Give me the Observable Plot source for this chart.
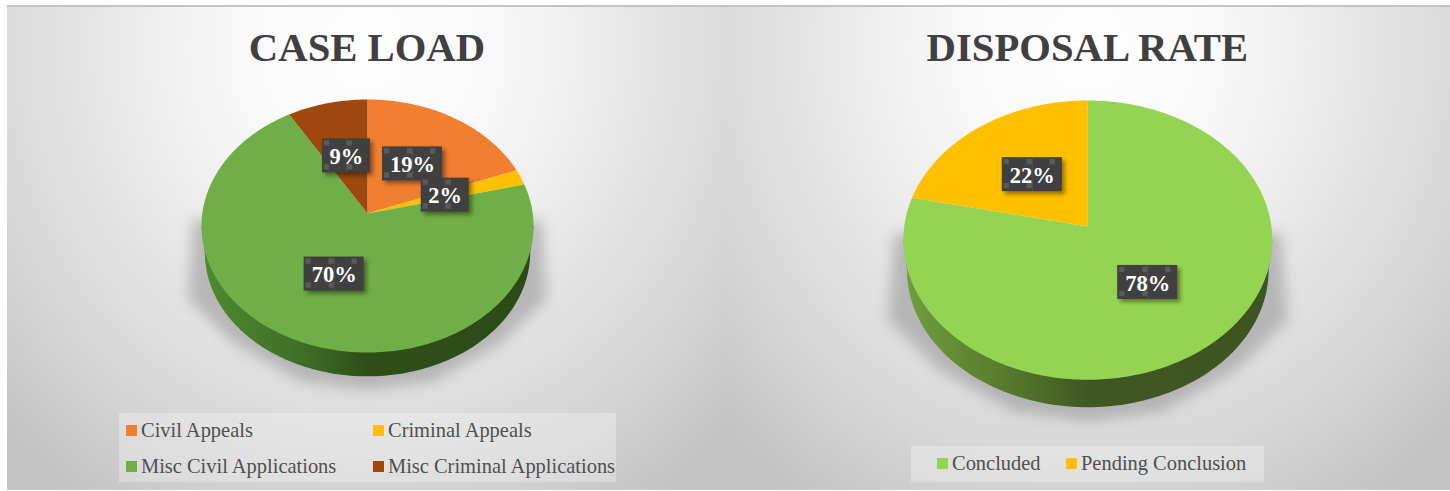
<!DOCTYPE html>
<html>
<head>
<meta charset="utf-8">
<script src="https://cdn.jsdelivr.net/npm/d3@7"></script>
<script src="https://cdn.jsdelivr.net/npm/@observablehq/plot@0.6"></script>
<style>
  html,body{margin:0;padding:0;background:#fff;}
  #page{position:relative;width:1450px;height:491px;overflow:hidden;font-family:"Liberation Serif",serif;}
  .panel{position:absolute;top:5px;height:485px;border-top:2px solid #c3c3c3;box-sizing:border-box;}
  .panel svg{position:absolute;left:0;top:0;background:transparent;overflow:visible;}
  .title{position:absolute;top:16px;margin:0;text-align:center;font:bold 40.7px "Liberation Serif",serif;color:#404040;white-space:nowrap;line-height:50px;}
  .legend{position:absolute;background:rgba(255,255,255,.28);}
  .item{position:absolute;font-size:20.45px;line-height:24px;color:#505050;white-space:nowrap;}
  .sw{position:absolute;width:11px;height:11px;}
</style>
</head>
<body>
<div id="page"></div>
<script>
// ---- data ----
const caseCategories = ["Civil Appeals", "Criminal Appeals", "Misc Civil Applications", "Misc Criminal Applications"];
const caseValues = [19.2, 2.0, 70.2, 8.6];
const caseColors = ["#f07f30", "#ffc000", "#70ae47", "#9e480e"];

const disposalCategories = ["Concluded", "Pending Conclusion"];
const disposalValues = [78.4, 21.6];
const disposalColors = ["#95d452", "#ffc000"];

const page = document.getElementById("page");
const TAU = Math.PI * 2;

function panel(cfg) {
  const {id, title, categories, values, colors, left, width, cx, cyApex, rx, ry, k, depth, narrow, sideStops, legend} = cfg;
  const div = document.createElement("div");
  div.className = "panel";
  div.style.left = left + "px";
  div.style.width = width + "px";
  div.style.background = "radial-gradient(ellipse 520px 560px at " + cfg.glow + "px 40px, #ffffff 0%, #f8f8f8 26%, #e7e7e7 52%, #d4d4d4 78%, #c2c2c2 100%)";
  page.appendChild(div);
  const height = 483;

  // homography of the unit disc: the tilted pie seen with a little perspective
  const proj = (u, v) => ({x: u / (1 - k * v), y: v / (1 - k * v)});
  const total = d3.sum(values);
  let acc = 0;
  const slices = values.map((val, i) => {
    const a0 = acc / total * TAU; acc += val;
    const a1 = acc / total * TAU;
    return {cat: categories[i], val, color: colors[i], a0, a1, mid: (a0 + a1) / 2};
  });

  const wedge = [];
  slices.forEach((s) => {
    wedge.push({...proj(0, 0), cat: s.cat, color: s.color});
    const n = Math.max(4, Math.ceil((s.a1 - s.a0) / 0.02));
    for (let j = 0; j <= n; j++) {
      const a = s.a0 + (s.a1 - s.a0) * j / n;
      wedge.push({...proj(Math.sin(a), -Math.cos(a)), cat: s.cat, color: s.color});
    }
  });

  // ellipse outline in projected data units
  const ox = 1 / Math.sqrt(1 - k * k);
  const oc = k / (1 - k * k);
  const oy = 1 / (1 - k * k);
  const ring = (sx, sy, c, a0, a1, n = 120) => d3.range(n + 1).map(j => {
    const a = a0 + (a1 - a0) * j / n;
    return {x: ox * sx * Math.cos(a), y: c + oy * sy * Math.sin(a)};
  });

  const side = [{x: -ox, y: oc}]
    .concat(ring(narrow, narrow, oc + depth + (1 - narrow) * oy, Math.PI, 0))
    .concat([{x: ox, y: oc}]);
  side.reverse();

  const shadow = [
    {x: -1.05 * ox, y: oc - 0.05},
    {x: -1.08 * ox, y: oc + 0.58},
    {x: -0.80 * ox, y: oc + 0.94},
    {x: -0.40 * ox, y: oc + 1.24},
    {x: 0, y: oc + 1.31},
    {x: 0.40 * ox, y: oc + 1.24},
    {x: 0.80 * ox, y: oc + 0.94},
    {x: 1.08 * ox, y: oc + 0.58},
    {x: 1.05 * ox, y: oc - 0.05}
  ];

  // labels sit half-way along each slice's middle radius
  const bx = rx, by = ry;
  const labels = slices.map(s => {
    const p = proj(0.5 * Math.sin(s.mid), -0.5 * Math.cos(s.mid));
    const text = Math.round(s.val) + "%";
    const hw = (text.length === 2 ? 24 : 30) / bx;
    const hh = 17 / by;
    return {...p, text, hw, hh};
  });

  const tiles = labels.flatMap(l => {
    const steps = l.text.length === 2 ? [-20, 3] : [-26, -3, 20];
    return steps.flatMap((dx, i) => [
      {x: l.x + dx / bx, y: l.y - 13 / by},
      ...(i < 2 ? [{x: l.x + dx / bx, y: l.y + 11 / by}] : [])
    ]);
  });
  const seams = labels.map(l => ({x: l.x, y1: l.y - l.hh, y2: l.y + l.hh}));

  const defs = () => {
    const ns = "http://www.w3.org/2000/svg";
    const d = document.createElementNS(ns, "defs");
    const g = document.createElementNS(ns, "linearGradient");
    g.setAttribute("id", "side-" + id);
    g.setAttribute("x1", "0"); g.setAttribute("x2", "1"); g.setAttribute("y1", "0"); g.setAttribute("y2", "0");
    sideStops.forEach(([o, c]) => {
      const st = document.createElementNS(ns, "stop");
      st.setAttribute("offset", o); st.setAttribute("stop-color", c);
      g.appendChild(st);
    });
    d.appendChild(g);
    return d;
  };

  const plot = Plot.plot({
    width, height,
    margin: 0,
    style: {background: "transparent"},
    x: {domain: [-1, 1], range: [cx - left - rx, cx - left + rx], axis: null},
    y: {domain: [-1, 1], range: [cyApex - 7 - ry, cyApex - 7 + ry], axis: null},
    marks: [
      defs,
      Plot.line(shadow, {x: "x", y: "y", fill: "#8c8c8c", stroke: "none", curve: "linear-closed", fillOpacity: 0.52, imageFilter: "blur(7px)"}),
      Plot.line(side, {x: "x", y: "y", fill: `url(#side-${id})`, stroke: "none", curve: "linear-closed"}),
      Plot.line(wedge, {x: "x", y: "y", z: "cat", fill: "color", stroke: "none", curve: "linear-closed"}),
      Plot.rect(labels, {
        x1: d => d.x - d.hw, x2: d => d.x + d.hw, y1: d => d.y - d.hh, y2: d => d.y + d.hh,
        fill: "#404040",
        imageFilter: "drop-shadow(3px 3px 2px rgba(0,0,0,.42))"
      }),
      Plot.dot(tiles, {x: "x", y: "y", symbol: "square", r: 3, fill: "#5a5a5a", stroke: "none"}),
      Plot.ruleX(seams, {x: "x", y1: "y1", y2: "y2", stroke: "#555555", strokeWidth: 0.8}),
      Plot.text(labels, {
        x: "x", y: "y", dy: 1, text: "text", fill: "#ffffff",
        fontFamily: "Liberation Serif", fontWeight: "bold", fontSize: 22.5
      })
    ]
  });
  div.appendChild(plot);

  const h = document.createElement("div");
  h.className = "title";
  h.textContent = title;
  h.style.width = width + "px";
  h.style.left = (cx - left - width / 2) + "px";
  div.appendChild(h);

  const box = document.createElement("div");
  box.className = "legend";
  const top = 7;
  box.style.cssText = `left:${legend.x - left}px;top:${legend.y - top}px;width:${legend.w}px;height:${legend.h}px;`;
  div.appendChild(box);
  categories.forEach((c, i) => {
    const pos = legend.items[i];
    const sw = document.createElement("div");
    sw.className = "sw";
    sw.style.cssText = `left:${pos[0] - legend.x}px;top:${pos[1] - legend.y}px;background:${colors[i]};`;
    box.appendChild(sw);
    const it = document.createElement("div");
    it.className = "item";
    it.textContent = c;
    it.style.left = (pos[0] + 15 - legend.x) + "px";
    it.style.top = (pos[1] - 7 - legend.y) + "px";
    box.appendChild(it);
  });
}

panel({
  id: "case", title: "CASE LOAD",
  categories: caseCategories, values: caseValues, colors: caseColors,
  left: 7, width: 720, glow: 360,
  cx: 367, cyApex: 213, rx: 165.2, ry: 125.3, k: 0.0988, depth: 0.19, narrow: 0.98,
  sideStops: [[0, "#4f8a31"], [0.3, "#3f6f26"], [0.5, "#2e4f1a"], [1, "#2c4a18"]],
  legend: {x: 119, y: 413, w: 497, h: 69, items: [[126, 425], [373, 425], [126, 461], [373, 461]]}
});
panel({
  id: "disp", title: "DISPOSAL RATE",
  categories: disposalCategories, values: disposalValues, colors: disposalColors,
  left: 727, width: 723, glow: 360,
  cx: 1087.3, cyApex: 226, rx: 183.6, ry: 138.3, k: 0.0978, depth: 0.198, narrow: 0.98,
  sideStops: [[0, "#6f9f3f"], [0.28, "#567a2d"], [0.5, "#3f5722"], [1, "#3e5521"]],
  legend: {x: 911, y: 446, w: 353, h: 36, items: [[937, 458], [1066, 458]]}
});
</script>
</body>
</html>
